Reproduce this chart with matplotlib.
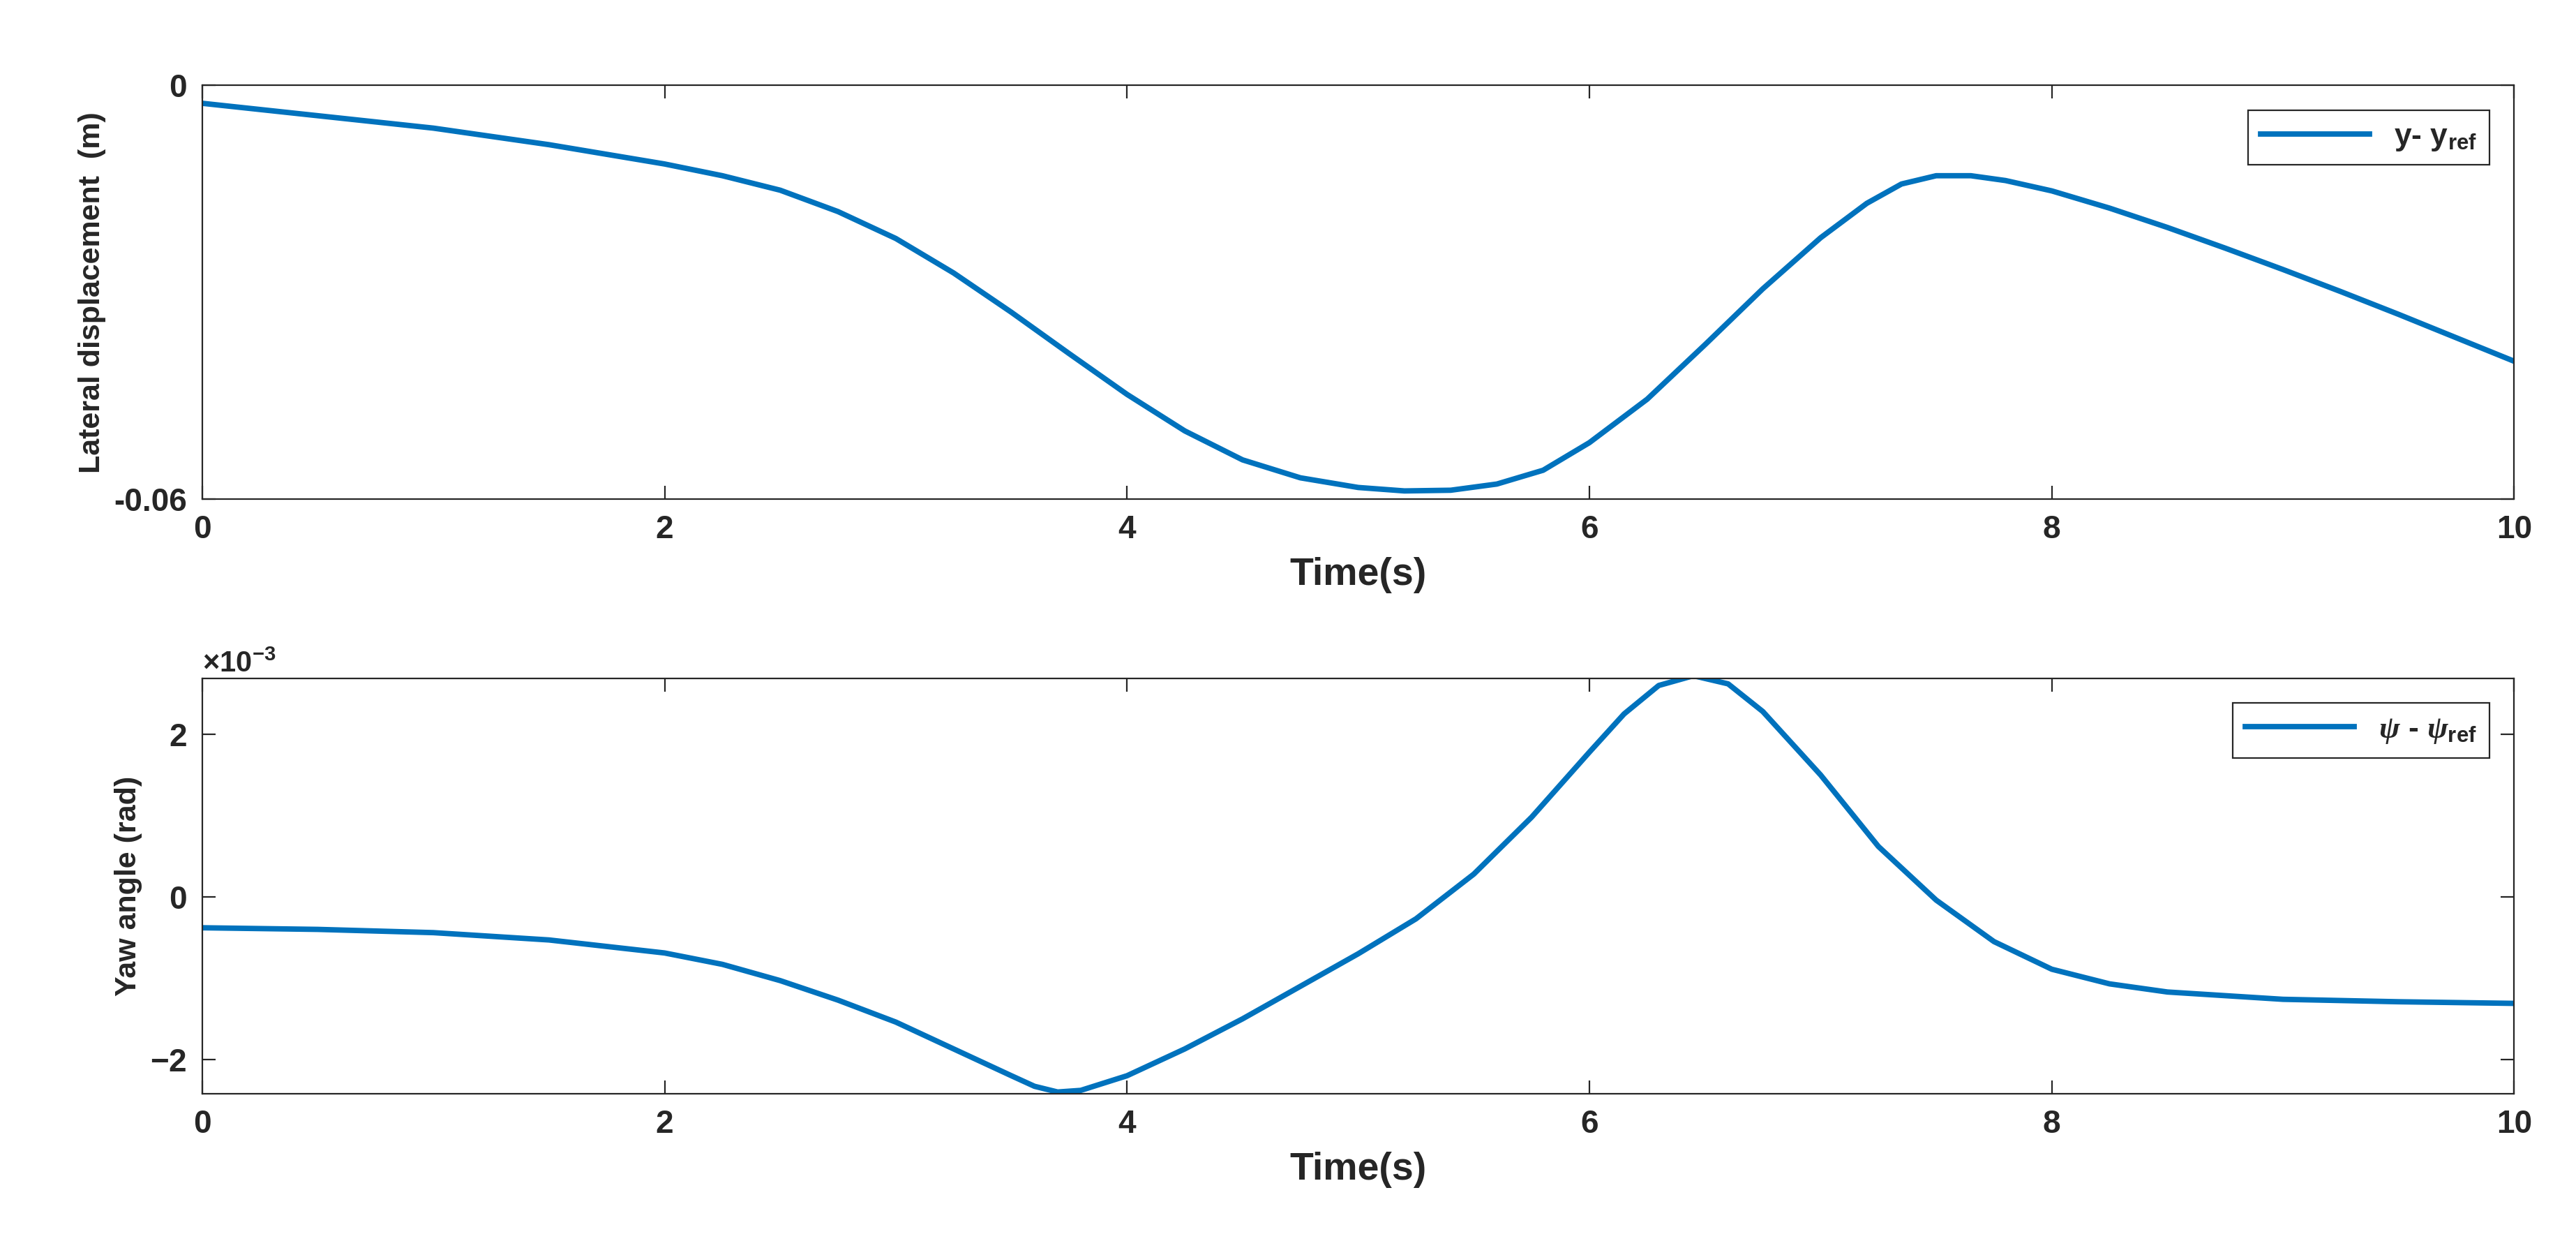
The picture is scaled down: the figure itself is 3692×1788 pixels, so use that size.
import matplotlib
matplotlib.use("Agg")
import matplotlib.pyplot as plt
from matplotlib.ticker import ScalarFormatter

t1 = [0, 0.5, 1, 1.5, 2, 2.25, 2.5, 2.75, 3, 3.25, 3.5, 3.75, 4, 4.25, 4.5, 4.75, 5, 5.2, 5.4, 5.6, 5.8, 6, 6.25,
      6.5, 6.75, 7, 7.2, 7.35, 7.5, 7.65, 7.8, 8, 8.25, 8.5, 8.75, 9, 9.25, 9.5, 9.75, 10]
lat = [-0.0026, -0.0044, -0.0062, -0.0086, -0.0114, -0.0131, -0.0152, -0.0183, -0.0222, -0.0272, -0.0329, -0.0389,
       -0.0448, -0.0501, -0.0543, -0.0569, -0.0583, -0.0588, -0.0587, -0.0578, -0.0558, -0.0518, -0.0455,
       -0.0376, -0.0295, -0.0221, -0.0171, -0.0143, -0.0131, -0.0131, -0.0138, -0.0153, -0.0178, -0.0206,
       -0.0236, -0.0267, -0.0299, -0.0332, -0.0366, -0.0400]
t2 = [0, 0.5, 1, 1.5, 2, 2.25, 2.5, 2.75, 3, 3.25, 3.5, 3.6, 3.7, 3.8, 4, 4.25, 4.5, 4.75, 5, 5.25, 5.5, 5.75, 6,
      6.15, 6.3, 6.45, 6.6, 6.75, 7, 7.25, 7.5, 7.75, 8, 8.25, 8.5, 9, 9.5, 10]
yaw = [-0.38, -0.40, -0.44, -0.53, -0.69, -0.83, -1.03, -1.27, -1.54, -1.87, -2.2, -2.33, -2.4, -2.38, -2.2,
       -1.87, -1.5, -1.1, -0.7, -0.27, 0.28, 0.98, 1.78, 2.25, 2.6, 2.72, 2.62, 2.28, 1.5, 0.62, -0.04, -0.55,
       -0.89, -1.07, -1.17, -1.26, -1.29, -1.31]
yaw = [v * 1e-3 for v in yaw]

plt.rcParams['font.family'] = ['Liberation Sans', 'DejaVu Sans']
plt.rcParams['font.weight'] = 'bold'
plt.rcParams['axes.unicode_minus'] = False
plt.rcParams['mathtext.fontset'] = 'custom'
plt.rcParams['mathtext.rm'] = 'Liberation Sans:bold'
plt.rcParams['mathtext.bf'] = 'Liberation Sans:bold'
plt.rcParams['mathtext.it'] = 'Liberation Serif:italic:bold'
TXT = '#262626'
plt.rcParams['text.color'] = TXT
plt.rcParams['xtick.color'] = TXT
plt.rcParams['ytick.color'] = TXT
plt.rcParams['axes.labelcolor'] = TXT
C = '#0072BD'
fig = plt.figure(figsize=(18.46, 8.94), dpi=200)
ax1 = fig.add_axes([0.0785, 0.6, 0.8975, 0.3316])
ax2 = fig.add_axes([0.0785, 0.1237, 0.8975, 0.3329])

ax1.plot(t1, lat, color=C, lw=2.8, label=r'y- y$_{\mathbf{ref}}$')
ax1.set_ylim(-0.06, 0)
ax1.set_yticks([-0.06, 0])
ax1.set_yticklabels(['-0.06', '0'])
ax1.set_ylabel('Lateral displacement  (m)', fontsize=15.5, fontweight='bold')

ax2.plot(t2, yaw, color=C, lw=2.8, label=r'$\psi$ - $\psi_{\mathbf{ref}}$')
ax2.set_ylim(-2.42e-3, 2.69e-3)
ax2.set_yticks([-2e-3, 0, 2e-3])
fmt = ScalarFormatter(useMathText=True)
fmt.set_powerlimits((-3, -3))
ax2.yaxis.set_major_formatter(fmt)
ax2.yaxis.get_offset_text().set_fontsize(15)
ax2.set_ylabel('Yaw angle (rad)', fontsize=15.5, fontweight='bold')

for ax in (ax1, ax2):
    ax.set_xlim(0, 10)
    ax.set_xticks([0, 2, 4, 6, 8, 10])
    ax.tick_params(direction='in', top=True, right=True, labelsize=16.5, width=0.8, length=7, pad=8)
    ax.set_xlabel('Time(s)', fontsize=20, fontweight='bold', labelpad=6)
    for s in ax.spines.values():
        s.set_linewidth(0.8)
        s.set_color(TXT)
    leg = ax.legend(loc='upper right', fontsize=16, fancybox=False, edgecolor=TXT, handlelength=3.5,
                    borderaxespad=0.8, framealpha=1)
    leg.get_frame().set_linewidth(0.8)

fig.savefig('out.png', dpi=200)
